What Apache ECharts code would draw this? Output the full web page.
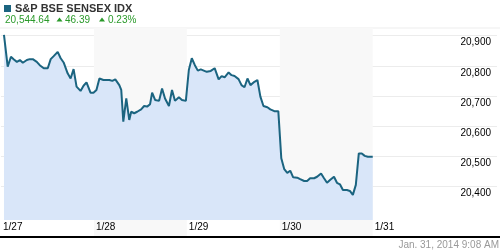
<!DOCTYPE html>
<html><head><meta charset="utf-8">
<script src="https://cdn.jsdelivr.net/npm/echarts@6/dist/echarts.min.js"></script>
<style>html,body{margin:0;padding:0;background:#fff}#c{width:500px;height:250px}</style>
</head><body><div id="c"></div>
<script>
const titleText = 'S&P BSE SENSEX IDX';
const lastPrice = '20,544.64';
const change = '46.39';
const changePct = '0.23%';
const stamp = 'Jan. 31, 2014 9:08 AM';
const dayLabels = ['1/27', '1/28', '1/29', '1/30', '1/31'];
const yTicks = [20400, 20500, 20600, 20700, 20800, 20900];
// trading-day position (0 = 1/27 session start)
const times = [0.032,0.072,0.107,0.139,0.171,0.203,0.235,0.278,0.310,0.342,0.385,0.417,0.460,0.503,0.535,0.567,0.610,0.642,0.674,0.717,0.749,0.781,0.813,0.856,0.888,0.920,0.963,0.995,
1.027,1.059,1.080,1.102,1.134,1.166,1.198,1.230,1.273,1.294,1.316,1.348,1.380,1.401,1.433,1.465,1.508,1.540,1.572,1.604,1.626,1.658,1.701,1.733,1.765,1.807,1.840,1.872,1.914,1.947,1.989,
2.021,2.053,2.086,2.118,2.150,2.182,2.214,2.257,2.299,2.342,2.374,2.406,2.449,2.481,2.513,2.556,2.588,2.620,2.652,2.684,2.727,2.759,2.791,2.824,2.866,2.898,2.941,2.984,
3.016,3.048,3.080,3.112,3.144,3.187,3.219,3.262,3.294,3.326,3.369,3.401,3.444,3.476,3.508,3.540,3.583,3.615,3.647,3.679,3.722,3.754,3.786,3.818,3.850,3.882,3.914,3.947,4.000];
const values = [20902,20797,20830,20821,20813,20819,20810,20819,20822,20822,20813,20802,20792,20792,20822,20832,20846,20825,20811,20775,20758,20789,20731,20717,20734,20745,20711,20711,
20720,20758,20764,20753,20753,20753,20750,20755,20736,20720,20615,20692,20621,20648,20643,20648,20656,20667,20665,20673,20711,20687,20684,20725,20692,20667,20720,20684,20696,20687,20684,
20786,20825,20802,20784,20788,20784,20780,20783,20792,20755,20766,20762,20778,20769,20766,20756,20736,20729,20758,20736,20747,20753,20698,20667,20663,20656,20650,20650,
20494,20458,20446,20453,20431,20430,20425,20419,20419,20428,20428,20433,20444,20428,20413,20422,20433,20413,20408,20389,20389,20386,20373,20406,20510,20510,20502,20499,20499];

const yMin = 20237, yMax = 20925, areaFloor = 20290;
const xMax = 5.337;

const chart = echarts.init(document.getElementById('c'), null, {renderer: 'canvas'});
const green = '#2a9a2a';
chart.setOption({
  animation: false,
  textStyle: {fontFamily: 'Arial, "Liberation Sans", sans-serif'},
  grid: {left: 1, right: 0, top: 28, bottom: 14, containLabel: false},
  xAxis: {
    type: 'value', min: 0, max: xMax, interval: 1,
    axisLine: {show: false}, axisTick: {show: false},
    splitLine: {show: false},
    splitArea: {show: true, areaStyle: {color: ['rgba(0,0,0,0)', '#f8f8f8', 'rgba(0,0,0,0)', '#f8f8f8', 'rgba(0,0,0,0)', 'rgba(0,0,0,0)']}},
    axisLabel: {
      inside: true, margin: 4, align: 'left', padding: [0, 0, 0, 2],
      fontSize: 10, color: '#000',
      formatter: v => dayLabels[Math.round(v)] || ''
    }
  },
  yAxis: {
    type: 'value', position: 'right', min: yMin, max: yMax,
    axisLine: {show: false},
    axisTick: {show: false, customValues: yTicks},
    splitLine: {show: true, lineStyle: {color: '#ececec', width: 1}},
    axisLabel: {
      inside: true, margin: 6, customValues: yTicks, verticalAlign: 'top', padding: [2, 0, 0, 0],
      fontSize: 10, color: '#000',
      formatter: v => v.toLocaleString('en-US')
    }
  },
  series: [{
    type: 'line',
    data: times.map((t, i) => [t, values[i]]),
    showSymbol: false,
    lineStyle: {color: '#1b6480', width: 2},
    itemStyle: {color: '#1b6480'},
    areaStyle: {color: '#d9e6f9', opacity: 1, origin: areaFloor},
    z: 3
  }],
  graphic: [
    {type: 'rect', shape: {x: 4, y: 5, width: 7, height: 7}, style: {fill: '#1b6480'}},
    {type: 'text', x: 15, y: 9, style: {text: titleText, font: 'bold 11px Arial, "Liberation Sans"', fill: '#333', textVerticalAlign: 'middle'}},
    {type: 'text', x: 5, y: 20.5, style: {text: lastPrice, font: '10px Arial, "Liberation Sans"', fill: green, textVerticalAlign: 'middle'}},
    {type: 'polygon', shape: {points: [[56.5, 21.5], [62.5, 21.5], [59.5, 17.5]]}, style: {fill: green}},
    {type: 'text', x: 65, y: 20.5, style: {text: change, font: '10px Arial, "Liberation Sans"', fill: green, textVerticalAlign: 'middle'}},
    {type: 'polygon', shape: {points: [[99, 21.5], [105, 21.5], [102, 17.5]]}, style: {fill: green}},
    {type: 'text', x: 108, y: 20.5, style: {text: changePct, font: '10px Arial, "Liberation Sans"', fill: green, textVerticalAlign: 'middle'}},
    {type: 'rect', shape: {x: 0, y: 27.5, width: 500, height: 1}, style: {fill: '#eeeeee'}, z: -1},
    {type: 'rect', shape: {x: 0, y: 236, width: 500, height: 2}, style: {fill: '#000'}},
    {type: 'text', x: 499, y: 245, style: {text: stamp, font: '10px Arial, "Liberation Sans"', fill: '#999', textAlign: 'right', textVerticalAlign: 'middle'}}
  ]
});
</script></body></html>
